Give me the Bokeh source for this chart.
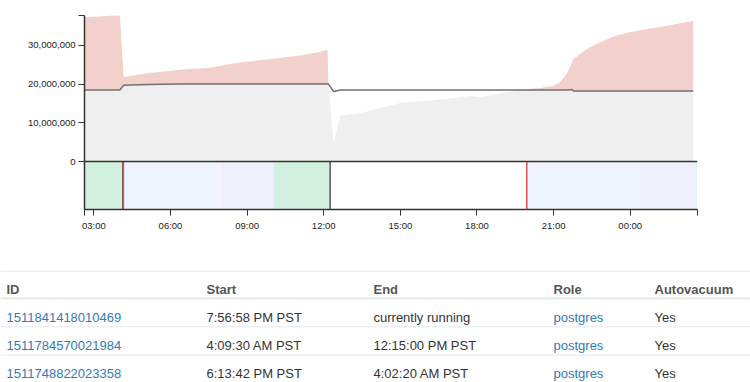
import numpy as np
import pandas as pd
from bokeh.plotting import figure
from bokeh.layouts import column
from bokeh.models import (Range1d, FixedTicker, Span, ColumnDataSource,
                          DatetimeTickFormatter, NumeralTickFormatter)
from bokeh.core.properties import value
from bokeh.embed import file_html
from bokeh.resources import INLINE

# ---------------- data ----------------
times = ["2017-11-27 02:38", "2017-11-27 03:16", "2017-11-27 03:43", "2017-11-27 04:01",
         "2017-11-27 04:10", "2017-11-27 05:05", "2017-11-27 06:23", "2017-11-27 07:34",
         "2017-11-27 08:28", "2017-11-27 09:48", "2017-11-27 11:05", "2017-11-27 11:45",
         "2017-11-27 12:09", "2017-11-27 12:11", "2017-11-27 12:23", "2017-11-27 12:39",
         "2017-11-27 13:26", "2017-11-27 13:56", "2017-11-27 15:00", "2017-11-27 15:47",
         "2017-11-27 17:04", "2017-11-27 17:44", "2017-11-27 18:08", "2017-11-27 18:55",
         "2017-11-27 19:34", "2017-11-27 19:42", "2017-11-27 20:29", "2017-11-27 20:59",
         "2017-11-27 21:15", "2017-11-27 21:31", "2017-11-27 21:43", "2017-11-27 21:47",
         "2017-11-27 22:18", "2017-11-27 22:49", "2017-11-27 23:21", "2017-11-27 23:52",
         "2017-11-28 00:23", "2017-11-28 00:54", "2017-11-28 01:26", "2017-11-28 01:57",
         "2017-11-28 02:28"]
dead_rows_m = [37.3, 37.5, 37.8, 37.8,
               21.8, 22.8, 23.7, 24.2,
               25.4, 26.4, 27.4, 28.2,
               28.9, 20.0, 4.6, 11.9,
               12.5, 13.4, 15.1, 15.6,
               16.4, 16.9, 16.6, 17.6,
               18.3, 18.6, 19.0, 19.6,
               20.5, 22.7, 25.5, 26.5,
               29.1, 30.8, 32.3, 33.3,
               33.9, 34.5, 35.1, 35.7,
               36.3]
threshold_m = [18.5, 18.5, 18.5, 18.5,
               19.7, 19.9, 20.0, 20.0,
               20.0, 20.0, 20.0, 20.0,
               20.0, 20.0, 18.1, 18.5,
               18.5, 18.5, 18.5, 18.5,
               18.5, 18.5, 18.5, 18.5,
               18.5, 18.5, 18.5, 18.5,
               18.5, 18.5, 18.6, 18.2,
               18.2, 18.2, 18.2, 18.2,
               18.2, 18.2, 18.2, 18.2,
               18.2]
y_ticks = [0, 10_000_000, 20_000_000, 30_000_000]
y_max = 37_730_000

window = ["2017-11-27 02:38:00", "2017-11-28 02:38:00"]
x_tick_times = ["2017-11-27 03:00:00", "2017-11-27 06:00:00", "2017-11-27 09:00:00", "2017-11-27 12:00:00",
                "2017-11-27 15:00:00", "2017-11-27 18:00:00", "2017-11-27 21:00:00", "2017-11-28 00:00:00"]

phase_start = ["2017-11-27 02:38:00", "2017-11-27 04:09:30", "2017-11-27 07:57:00", "2017-11-27 10:03:00",
               "2017-11-27 19:56:58", "2017-11-28 00:23:00", "2017-11-28 02:34:00"]
phase_end = ["2017-11-27 04:08:00", "2017-11-27 07:57:00", "2017-11-27 10:03:00", "2017-11-27 12:15:00",
             "2017-11-28 00:23:00", "2017-11-28 02:34:00", "2017-11-28 02:36:00"]
phase_name = ["vacuuming heap", "scanning heap", "vacuuming indexes", "vacuuming heap",
              "scanning heap", "vacuuming indexes", "vacuuming heap"]

event_time = ["2017-11-27 04:08:00", "2017-11-27 04:09:30", "2017-11-27 12:15:00", "2017-11-27 19:56:58"]
event_kind = ["end", "start", "end", "start"]

columns = ["ID", "Start", "End", "Role", "Autovacuum"]
ids = ["1511841418010469", "1511784570021984", "1511748822023358"]
starts = ["7:56:58 PM PST", "4:09:30 AM PST", "6:13:42 PM PST"]
ends = ["currently running", "12:15:00 PM PST", "4:02:20 AM PST"]
roles = ["postgres", "postgres", "postgres"]
autovacuum = ["Yes", "Yes", "Yes"]

# ---------------- styles ----------------
PINK = "#f2d0cc"
GREY = "#efefef"
LINE = "#707070"
AXIS = "#333333"
PHASE_COLORS = {"scanning heap": "#eef5fe", "vacuuming indexes": "#efeefb", "vacuuming heap": "#d2f0df"}
EVENT_COLORS = {"start": "#e8504a", "end": "#555555"}
FONT = "Liberation Sans"
W = 750
BAND_DEPTH = 12_400_000   # vertical room for the phase band below zero (layout)

def dt(a):
    return pd.to_datetime(a, format="mixed")

def ms(s):
    return pd.Timestamp(s).value // 10**6

t = dt(times)
v = np.array(dead_rows_m) * 1e6
thr = np.array(threshold_m) * 1e6
src = ColumnDataSource(dict(t=t, grey=np.minimum(v, thr), thr=thr, pink=np.maximum(v, thr)))

xr = Range1d(pd.Timestamp(window[0]), pd.Timestamp(window[1]))
yr = Range1d(-BAND_DEPTH, y_max)

# ---------------- chart (area + phase band) ----------------
p = figure(width=W, height=240, x_range=xr, y_range=yr, x_axis_type="datetime",
           output_backend="svg", toolbar_location=None, frame_align=False,
           min_border_left=84, min_border_right=53, min_border_top=15, min_border_bottom=31)
p.grid.visible = False
p.outline_line_color = None

p.varea(x="t", y1=0, y2="grey", source=src, fill_color=GREY)
p.varea(x="t", y1="thr", y2="pink", source=src, fill_color=PINK)
p.line(x="t", y="thr", source=src, line_color=LINE, line_width=1.5)

band = ColumnDataSource(dict(
    left=dt(phase_start), right=dt(phase_end),
    color=[PHASE_COLORS[n] for n in phase_name], name=phase_name))
ev = ColumnDataSource(dict(
    t=dt(event_time), color=[EVENT_COLORS[k] for k in event_kind]))
p.quad(left="left", right="right", bottom=-BAND_DEPTH, top=0, source=band,
       fill_color="color", line_color=None)
p.segment(x0="t", y0=-BAND_DEPTH, x1="t", y1=0, source=ev, line_color="color", line_width=1.5)
p.add_layout(Span(location=0, dimension="width", line_color=AXIS, line_width=1.5))

ya = p.yaxis[0]
ya.ticker = FixedTicker(ticks=y_ticks, minor_ticks=[y_max - 1000])
ya.formatter = NumeralTickFormatter(format="0,0")
ya.major_tick_out = 6
ya.major_tick_in = 0
ya.minor_tick_out = 6
ya.minor_tick_in = 0
ya.minor_tick_line_color = AXIS
ya.major_tick_line_color = AXIS
ya.axis_line_color = AXIS
ya.axis_line_width = 1.5
ya.major_label_standoff = 3
ya.major_label_text_font = FONT
ya.major_label_text_font_size = "9.5px"
ya.major_label_text_color = "#222222"

xb = p.xaxis[0]
xb.ticker = FixedTicker(ticks=[ms(s) for s in x_tick_times],
                        minor_ticks=[ms(window[0]) + 1000, ms(window[1]) - 1000])
xb.formatter = DatetimeTickFormatter(hours="%H:%M", hourmin="%H:%M", days="%H:%M",
                                     minutes="%H:%M", minsec="%H:%M")
xb.major_tick_out = 6
xb.major_tick_in = 0
xb.minor_tick_out = 6
xb.minor_tick_in = 0
xb.major_tick_line_color = AXIS
xb.minor_tick_line_color = AXIS
xb.axis_line_color = AXIS
xb.axis_line_width = 1.5
xb.major_label_standoff = 4
xb.major_label_text_font = FONT
xb.major_label_text_font_size = "9.5px"
xb.major_label_text_color = "#222222"

# ---------------- table ----------------
TH = 142
col_x = [6, 206, 373, 553, 654]
top_line = 30.7
header_bottom = 58.0
row_h = 28.3
header_base = 48.5
row_base_off = 18.7

pt = figure(width=W, height=TH, x_range=Range1d(0, W), y_range=Range1d(TH, 0),
            x_axis_location=None, y_axis_location=None, frame_align=False,
            output_backend="svg", toolbar_location=None,
            min_border_left=0, min_border_right=0, min_border_top=0, min_border_bottom=0)
pt.grid.visible = False
pt.outline_line_color = None

n = len(ids)
line_y = [top_line, header_bottom] + [header_bottom + (i + 1) * row_h for i in range(n - 1)]
line_w = [1, 2] + [1] * (n - 1)
pt.segment(x0=[0] * len(line_y), x1=[W] * len(line_y), y0=line_y, y1=line_y,
           line_color="#e4e8ed", line_width=line_w)

pt.text(x=col_x, y=[header_base] * len(columns), text=columns,
        text_font=value(FONT), text_font_style="bold", text_font_size="13px",
        text_color="#555555", text_baseline="alphabetic")

body_cols = [ids, starts, ends, roles, autovacuum]
body_colors = ["#337ab7", "#333333", "#333333", "#337ab7", "#333333"]
row_y = [header_bottom + row_base_off + i * row_h for i in range(n)]
for cx, vals, colr in zip(col_x, body_cols, body_colors):
    pt.text(x=[cx] * n, y=row_y, text=vals, text_font=value(FONT),
            text_font_size="13px", text_color=colr, text_baseline="alphabetic")

layout = column(p, pt, spacing=0)
open("out.html", "w").write(file_html(layout, INLINE))
